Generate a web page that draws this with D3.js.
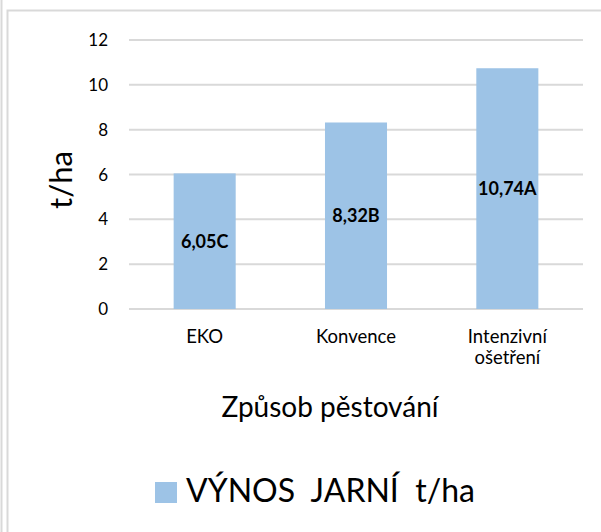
<!DOCTYPE html>
<html>
<head>
<meta charset="utf-8">
<script src="https://cdn.jsdelivr.net/npm/d3@7"></script>
<style>
  body { margin: 0; background: #fff; }
  text { font-family: Lato, "Open Sans", sans-serif; fill: #000; }
</style>
</head>
<body>
<div id="chart"></div>
<script>
// data
const categories = ["EKO", "Konvence", "Intenzivní ošetření"];
const values = [6.05, 8.32, 10.74];
const labels = ["6,05C", "8,32B", "10,74A"];
const yTicks = [0, 2, 4, 6, 8, 10, 12];
const seriesName = "VÝNOS\u00a0\u00a0JARNÍ\u00a0\u00a0t/ha";

const w = 601;
const h = 532;
const barColor = "#9dc3e6";
const gridColor = "#d9d9d9";

const svg = d3.select("#chart")
  .append("svg")
  .attr("width", w)
  .attr("height", h)

// frame lines
svg.append("line")
  .attr("x1", 1.5).attr("x2", 1.5)
  .attr("y1", 0).attr("y2", h)
  .attr("stroke", gridColor).attr("stroke-width", 2)
svg.append("rect")
  .attr("x", 7.5).attr("y", 10.5)
  .attr("width", w + 20).attr("height", h + 20)
  .attr("fill", "none")
  .attr("stroke", gridColor).attr("stroke-width", 2)

const x = d3.scaleBand()
  .domain(categories)
  .range([129, 583])
  .paddingInner(0.59)
  .paddingOuter(0.295)

const y = d3.scaleLinear()
  .domain([0, 12])
  .range([309, 40])

// gridlines
svg.append("g")
  .selectAll("line")
  .data(yTicks)
  .enter()
  .append("line")
  .attr("x1", 129)
  .attr("x2", 583)
  .attr("y1", d => y(d))
  .attr("y2", d => y(d))
  .attr("stroke", gridColor)
  .attr("stroke-width", 2)

// y tick labels
svg.append("g")
  .selectAll("text")
  .data(yTicks)
  .enter()
  .append("text")
  .text(d => d)
  .attr("x", 108)
  .attr("y", d => y(d))
  .attr("dy", "0.36em")
  .attr("text-anchor", "end")
  .attr("font-size", 17)

// bars
svg.append("g")
  .selectAll("rect")
  .data(values)
  .enter()
  .append("rect")
  .attr("x", (d, i) => x(categories[i]))
  .attr("y", d => y(d))
  .attr("width", x.bandwidth())
  .attr("height", d => y(0) - y(d))
  .attr("fill", barColor)

// value labels in middle of bars
svg.append("g")
  .selectAll("text")
  .data(values)
  .enter()
  .append("text")
  .text((d, i) => labels[i])
  .attr("x", (d, i) => x(categories[i]) + x.bandwidth() / 2)
  .attr("y", d => (y(d) + y(0)) / 2)
  .attr("dy", "0.36em")
  .attr("text-anchor", "middle")
  .attr("font-weight", "bold")
  .attr("font-size", 18)

// category labels (wrap on space for the long one)
const catG = svg.append("g")
  .selectAll("text")
  .data(categories)
  .enter()
  .append("text")
  .attr("x", d => x(d) + x.bandwidth() / 2)
  .attr("y", 343)
  .attr("text-anchor", "middle")
  .attr("font-size", 18.5)
catG.each(function(d) {
  const words = d.split(" ");
  const t = d3.select(this);
  words.forEach((wd, j) => {
    t.append("tspan")
      .attr("x", t.attr("x"))
      .attr("dy", j === 0 ? 0 : 21)
      .text(wd)
  })
})

// axis titles
svg.append("text")
  .text("t/ha")
  .attr("transform", "translate(72,180) rotate(-90)")
  .attr("text-anchor", "middle")
  .attr("font-size", 31)

svg.append("text")
  .text("Způsob pěstování")
  .attr("x", 330)
  .attr("y", 417)
  .attr("text-anchor", "middle")
  .attr("font-size", 28)

// legend
svg.append("rect")
  .attr("x", 155)
  .attr("y", 482)
  .attr("width", 22)
  .attr("height", 21)
  .attr("fill", barColor)
svg.append("text")
  .text(seriesName)
  .attr("x", 186)
  .attr("y", 502)
  .attr("font-size", 32)
</script>
</body>
</html>
